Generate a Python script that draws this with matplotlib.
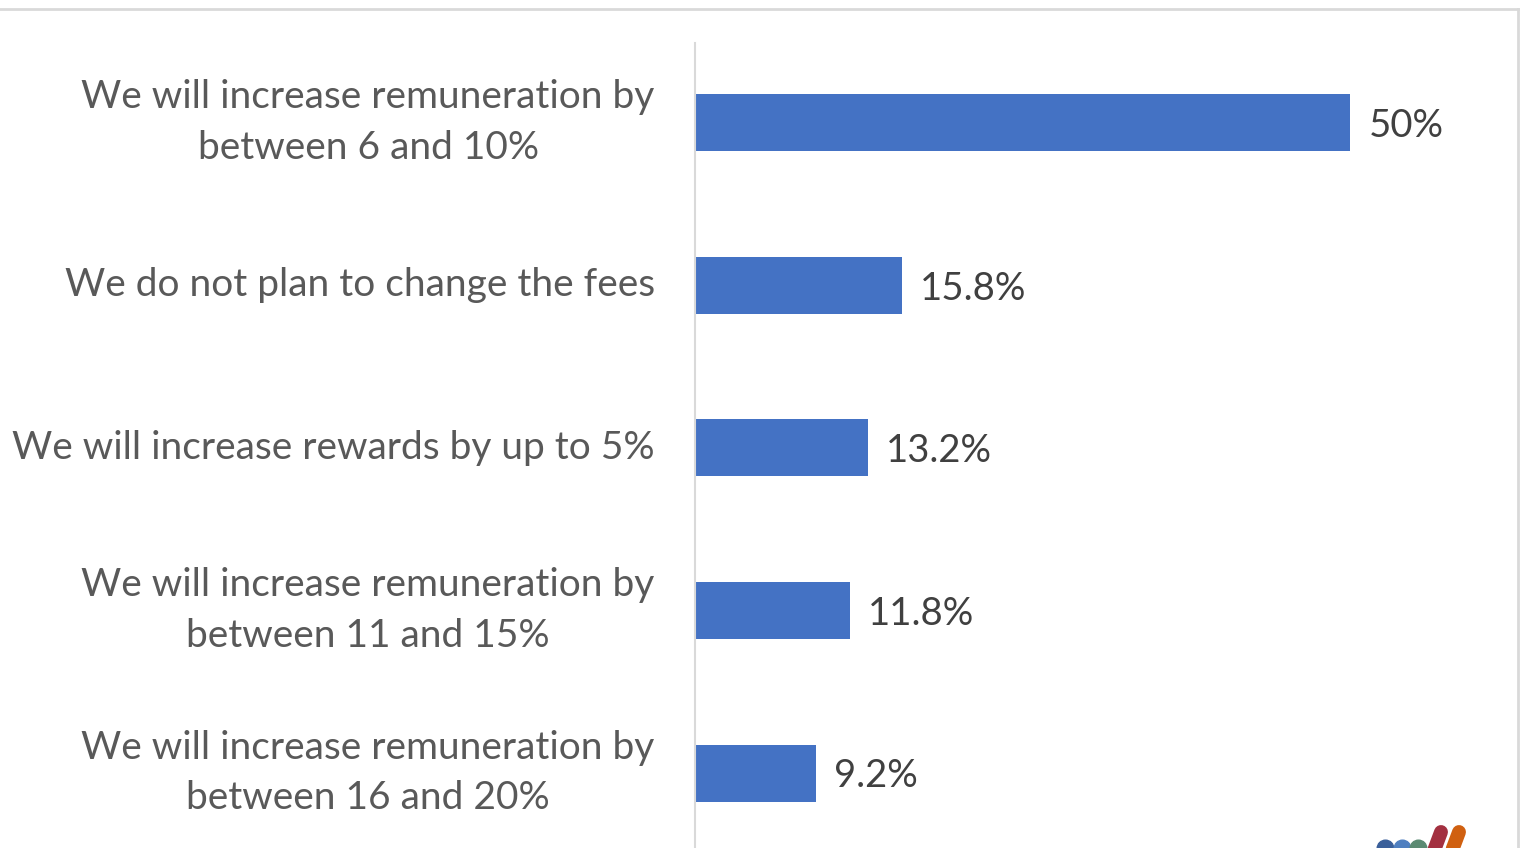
import matplotlib.pyplot as plt
from matplotlib.lines import Line2D

# Survey answers, top to bottom
answers = [
    "We will increase remuneration by\nbetween 6 and 10%",
    "We do not plan to change the fees",
    "We will increase rewards by up to 5%",
    "We will increase remuneration by\nbetween 11 and 15%",
    "We will increase remuneration by\nbetween 16 and 20%",
]
shares = [50, 15.8, 13.2, 11.8, 9.2]
share_labels = ["50%", "15.8%", "13.2%", "11.8%", "9.2%"]

W, H = 1521, 848
fig = plt.figure(figsize=(W / 100, H / 100), dpi=100)
plt.rcParams['font.family'] = ['Lato', 'DejaVu Sans']

# axes placed in pixel terms: left edge at the vertical axis line
left, top, right = 695, 43, 1500
ax = fig.add_axes([left / W, 0, (right - left) / W, (H - top) / H])

pos = list(range(len(answers)))
ax.barh(pos, shares, height=0.35, color="#4472c4", zorder=2)

px_per_pct = 13.1
ax.set_xlim(0, (right - left) / px_per_pct)
ax.set_ylim(4.46, -0.49)

for y, v, lab in zip(pos, shares, share_labels):
    ax.text(v + 1.4, y + 0.02, lab, va="center", ha="left",
            fontsize=27.5, color="#404040")

ax.set_yticks(pos)
ax.set_yticklabels(answers, fontsize=28, color="#595959",
                   multialignment="center", linespacing=1.5)
for t in ax.get_yticklabels():
    t.set_va("center")
ax.tick_params(axis="y", length=0, pad=29)
ax.set_xticks([])

for s in ["top", "right", "bottom"]:
    ax.spines[s].set_visible(False)
ax.spines["left"].set_color("#d9d9d9")
ax.spines["left"].set_linewidth(1.5)

# outer frame lines of the screenshot
fig.add_artist(Line2D([0, 1518 / W], [1 - 9 / H, 1 - 9 / H],
                      color="#d9d9d9", lw=2, transform=fig.transFigure))
fig.add_artist(Line2D([1518 / W, 1518 / W], [0, 1 - 9 / H],
                      color="#d9d9d9", lw=2, transform=fig.transFigure))

# partial logo in the bottom-right corner
dots = [(1385, "#3a5f9a"), (1402, "#4f7fc0"), (1418, "#5b8a72")]
for x, c in dots:
    fig.add_artist(Line2D([x / W], [1 - 848 / H], marker="o", ms=12,
                          color=c, transform=fig.transFigure))
slashes = [(1432, "#a33040"), (1450, "#d06010")]
for x, c in slashes:
    fig.add_artist(Line2D([x / W, (x + 9) / W], [1 - 856 / H, 1 - 832 / H],
                          color=c, lw=10, solid_capstyle="round",
                          transform=fig.transFigure))

fig.savefig("out.png", dpi=100)
